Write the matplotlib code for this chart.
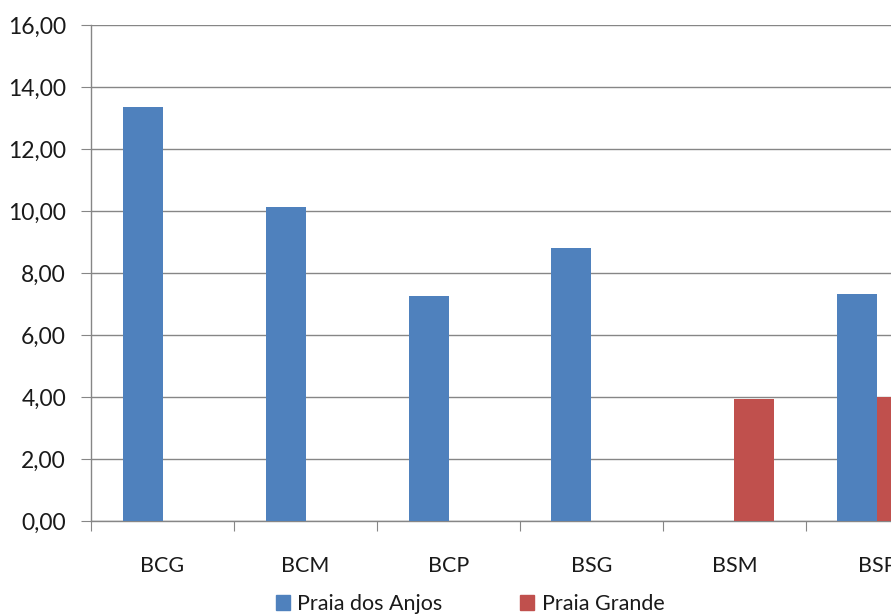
import matplotlib
matplotlib.use("Agg")
import matplotlib.pyplot as plt
import numpy as np
from matplotlib.patches import Patch
from matplotlib.ticker import FuncFormatter

plt.rcParams['font.family'] = ['Lato', 'DejaVu Sans']

categories = ["BCG", "BCM", "BCP", "BSG", "BSM", "BSP"]
series_names = ["Praia dos Anjos", "Praia Grande"]
praia_dos_anjos = [13.37, 10.13, 7.26, 8.81, 0.0, 7.33]
praia_grande = [0.0, 0.0, 0.0, 0.0, 3.94, 4.00]
colors = ["#4F81BD", "#C0504D"]

W, H = 891, 614
fig = plt.figure(figsize=(W / 100, H / 100), dpi=100)
ax = fig.add_axes([91 / W, (H - 521) / H, 858 / W, 496 / H])

x = np.arange(len(categories))
bw = 40 / 143
ax.bar(x - bw / 2, praia_dos_anjos, width=bw, color=colors[0], zorder=3)
ax.bar(x + bw / 2, praia_grande, width=bw, color=colors[1], zorder=3)

ax.set_xlim(-0.5, len(categories) - 0.5)
ax.set_ylim(0, 16)
ax.set_yticks(np.arange(0, 17, 2))
ax.yaxis.set_major_formatter(FuncFormatter(lambda v, p: f"{v:.2f}".replace(".", ",")))
ax.grid(axis='y', color='#868686', linewidth=1, zorder=0)

ax.set_xticks(np.arange(-0.5, len(categories), 1))
ax.set_xticklabels([])
ax.set_xticks(x, minor=True)
ax.set_xticklabels(categories, minor=True)
ax.tick_params(axis='x', which='minor', length=0, pad=25, labelsize=15.5, labelcolor='#1a1a1a')
ax.tick_params(axis='x', which='major', length=7, color='#868686', direction='out')
ax.tick_params(axis='y', length=7, color='#868686', pad=11, labelsize=16.5, labelcolor='#1a1a1a')

for s in ['top', 'right']:
    ax.spines[s].set_visible(False)
for s in ['left', 'bottom']:
    ax.spines[s].set_color('#868686')
    ax.spines[s].set_linewidth(1)

handles = [Patch(color=c, label=n) for c, n in zip(colors, series_names)]
fig.legend(handles=handles, loc='center', bbox_to_anchor=(470 / W, 1 - 604 / H), ncol=2,
           frameon=False, fontsize=15.5, handlelength=0.65, handleheight=0.65,
           handletextpad=0.35, columnspacing=3.6, labelcolor='#1a1a1a')

fig.savefig("out.png", dpi=100)
